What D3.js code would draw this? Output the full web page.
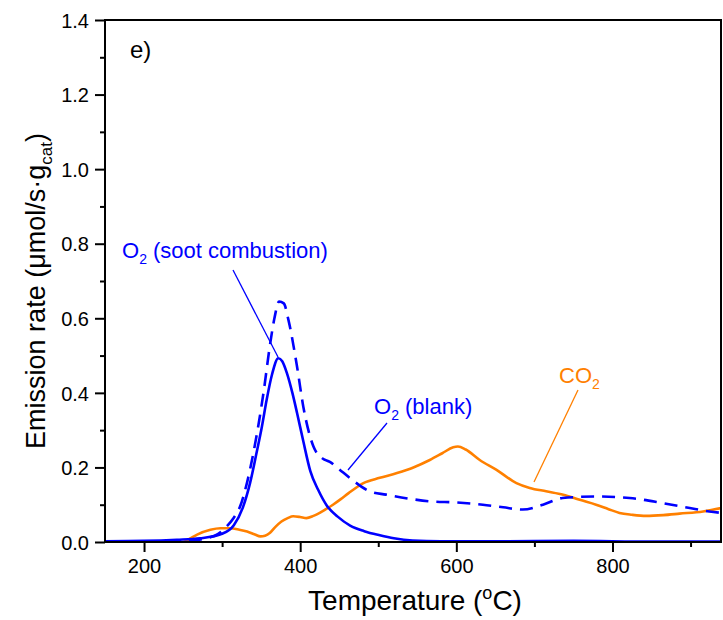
<!DOCTYPE html>
<html>
<head>
<meta charset="utf-8">
<script src="https://cdn.jsdelivr.net/npm/d3@7"></script>
<style>
  body { margin: 0; background: #fff; }
  text { font-family: Arial, "Liberation Sans", sans-serif; }
</style>
</head>
<body>
<div id="chart"></div>
<script>
// O2 (soot combustion), solid blue
var tempSoot = [150, 200, 242, 272, 300, 315, 327, 336, 344, 351, 357, 364, 372, 377, 383, 390, 396, 404, 413, 423, 434, 448, 464, 482, 502, 520, 544, 580, 650, 750, 850, 939];
var rateSoot = [0.002, 0.003, 0.006, 0.010, 0.022, 0.045, 0.095, 0.16, 0.238, 0.31, 0.381, 0.45, 0.493, 0.485, 0.453, 0.40, 0.346, 0.27, 0.19, 0.14, 0.098, 0.068, 0.044, 0.029, 0.018, 0.010, 0.004, 0.002, 0.002, 0.003, 0.001, 0.001];

// O2 (blank), dashed blue
var tempBlank = [150, 200, 250, 275, 295, 306, 315, 323, 332, 340, 347, 353, 361, 367, 373, 379, 385, 396, 404, 417, 428, 438, 450, 464, 489, 510, 540, 566, 600, 634, 660, 685, 711, 736, 779, 822, 865, 899, 924, 939];
var rateBlank = [0.0, 0.0, 0.002, 0.008, 0.022, 0.042, 0.065, 0.095, 0.16, 0.238, 0.32, 0.40, 0.524, 0.60, 0.645, 0.64, 0.595, 0.47, 0.363, 0.256, 0.225, 0.215, 0.195, 0.171, 0.136, 0.127, 0.116, 0.109, 0.106, 0.10, 0.093, 0.087, 0.10, 0.118, 0.122, 0.118, 0.104, 0.091, 0.082, 0.078];

// CO2, solid orange
var tempCO2 = [150, 200, 250, 258, 268, 285, 298, 310, 322, 332, 342, 349, 355, 361, 368, 376, 384, 391, 400, 408, 417, 425, 433, 442, 452, 462, 481, 502, 524, 545, 566, 582, 596, 602, 612, 630, 651, 677, 694, 715, 737, 758, 779, 795, 809, 825, 843, 865, 886, 916, 939];
var rateCO2 = [0.0, 0.0, 0.0, 0.008, 0.02, 0.033, 0.037, 0.037, 0.033, 0.028, 0.02, 0.015, 0.017, 0.024, 0.04, 0.055, 0.064, 0.069, 0.067, 0.064, 0.07, 0.078, 0.088, 0.10, 0.115, 0.131, 0.158, 0.172, 0.185, 0.20, 0.22, 0.238, 0.254, 0.256, 0.248, 0.22, 0.194, 0.158, 0.145, 0.136, 0.127, 0.113, 0.10, 0.088, 0.078, 0.073, 0.07, 0.072, 0.076, 0.082, 0.091];

var xTicks = [200, 400, 600, 800];
var xMinor = [300, 500, 700, 900];
var yTicks = [0, 0.2, 0.4, 0.6, 0.8, 1.0, 1.2, 1.4];
var yMinor = [0.1, 0.3, 0.5, 0.7, 0.9, 1.1, 1.3];

var W = 723, H = 620;
var margin = {top: 20, right: 2, bottom: 78, left: 105};
var width = W - margin.left - margin.right,
    height = H - margin.top - margin.bottom;

var blue = "#0000ff", orange = "#ff8000";

var svg = d3.select("#chart")
    .append("svg")
        .attr("width", W)
        .attr("height", H)
    .append("g")
        .attr("transform", "translate(" + margin.left + "," + margin.top + ")");

var x = d3.scaleLinear().domain([150, 939]).range([0, width]);
var y = d3.scaleLinear().domain([0, 1.4]).range([height, 0]);

// clip so the lines stay in the frame
svg.append("clipPath").attr("id", "clip")
    .append("rect").attr("width", width).attr("height", height);

var line = d3.line()
    .x(d => x(d[0]))
    .y(d => y(d[1]))
    .curve(d3.curveMonotoneX);

var series = [
    {t: tempCO2, v: rateCO2, color: orange, dash: null},
    {t: tempBlank, v: rateBlank, color: blue, dash: "13,8"},
    {t: tempSoot, v: rateSoot, color: blue, dash: null}
];

svg.append("g").attr("clip-path", "url(#clip)")
    .selectAll("path")
    .data(series)
    .enter()
    .append("path")
    .attr("d", s => line(s.t.map((t, i) => [t, s.v[i]])))
    .attr("fill", "none")
    .attr("stroke", s => s.color)
    .attr("stroke-width", 2.6)
    .attr("stroke-dasharray", s => s.dash);

// axes
var xAxis = svg.append("g")
    .attr("transform", "translate(0," + height + ")")
    .call(d3.axisBottom(x).tickValues(xTicks).tickSize(10).tickSizeOuter(0).tickPadding(4));
var xMinorAxis = svg.append("g")
    .attr("transform", "translate(0," + height + ")")
    .call(d3.axisBottom(x).tickValues(xMinor).tickSize(5).tickSizeOuter(0).tickFormat(""));
var yAxis = svg.append("g")
    .call(d3.axisLeft(y).tickValues(yTicks).tickSize(10).tickSizeOuter(0).tickPadding(6).tickFormat(d3.format(".1f")));
var yMinorAxis = svg.append("g")
    .call(d3.axisLeft(y).tickValues(yMinor).tickSize(5).tickSizeOuter(0).tickFormat(""));

[xAxis, xMinorAxis, yAxis, yMinorAxis].forEach(function(g) {
    g.select(".domain").remove();
    g.selectAll("line").attr("stroke", "#000").attr("stroke-width", 2);
    g.selectAll("text").attr("fill", "#000").style("font-size", "20px");
});
xAxis.selectAll("text").attr("dy", "0.85em");
yAxis.selectAll("text").attr("dy", "0.36em");

// frame
svg.append("rect")
    .attr("width", width)
    .attr("height", height)
    .attr("fill", "none")
    .attr("stroke", "#000")
    .attr("stroke-width", 2);

// axis titles
svg.append("text")
    .attr("x", width / 2 + 2)
    .attr("y", height + 68)
    .attr("text-anchor", "middle")
    .style("font-size", "28px")
    .html('Temperature (<tspan dy="-11" font-size="18px">o</tspan><tspan dy="11">C)</tspan>');

svg.append("text")
    .attr("transform", "translate(-60," + (height / 2 + 10) + ") rotate(-90)")
    .attr("text-anchor", "middle")
    .style("font-size", "27px")
    .html('Emission rate (\u03bcmol/s\u00b7g<tspan dy="7" font-size="17px">cat</tspan><tspan dy="-7">)</tspan>');

// panel label
svg.append("text")
    .attr("x", 25)
    .attr("y", 38)
    .style("font-size", "24px")
    .text("e)");

// annotations with leader lines
var notes = [
    {label: "O", sub: "2", rest: " (soot combustion)", lx: 122, ly: 258, x1: 233, y1: 270, x2: 278, y2: 357, color: blue},
    {label: "O", sub: "2", rest: " (blank)", lx: 374, ly: 414, x1: 387, y1: 423, x2: 348, y2: 470, color: blue},
    {label: "CO", sub: "2", rest: "", lx: 559, ly: 383, x1: 578, y1: 390, x2: 534, y2: 482, color: orange}
];

notes.forEach(function(n) {
    svg.append("text")
        .attr("x", n.lx - margin.left)
        .attr("y", n.ly - margin.top)
        .attr("fill", n.color)
        .style("font-size", "22px")
        .html(n.label + '<tspan dy="6" font-size="14px">' + n.sub + '</tspan><tspan dy="-6">' + n.rest + '</tspan>');
    svg.append("line")
        .attr("x1", n.x1 - margin.left).attr("y1", n.y1 - margin.top)
        .attr("x2", n.x2 - margin.left).attr("y2", n.y2 - margin.top)
        .attr("stroke", n.color)
        .attr("stroke-width", 1.3);
});
</script>
</body>
</html>
